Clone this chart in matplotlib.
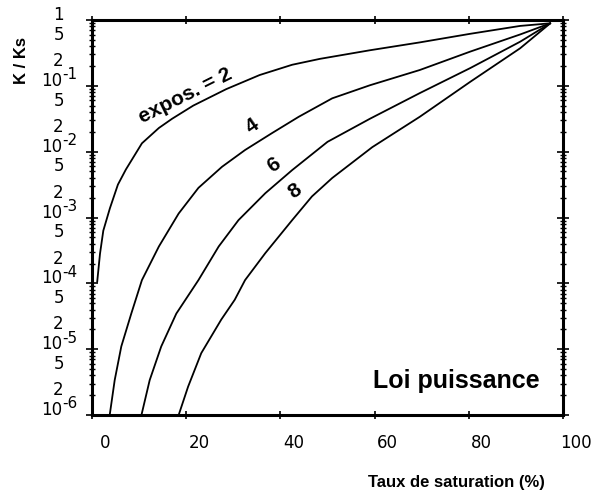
import numpy as np
import matplotlib
matplotlib.use("Agg")
import matplotlib.pyplot as plt
from matplotlib.transforms import blended_transform_factory, ScaledTranslation
from matplotlib.ticker import LogLocator, NullFormatter, FixedLocator

# ---- data ----
x_exp2 = [1.1, 1.7, 2.4, 3.8, 5.5, 7.2, 10.6, 14.2, 17.0, 21.5, 28.5, 35.6, 42.5, 48.4,
          59.0, 69.6, 80.3, 90.9, 97.3]
k_exp2 = [1.05e-4, 2.82e-4, 6.31e-4, 1.38e-3, 3.16e-3, 5.37e-3, 1.34e-2, 2.29e-2, 3.16e-2,
          5.01e-2, 8.91e-2, 0.146, 0.209, 0.257, 0.347, 0.457, 0.617, 0.813, 0.891]

x_exp4 = [3.76, 4.82, 6.22, 8.34, 10.6, 14.2, 18.4, 22.6, 27.6, 32.5, 38.2, 43.9, 51.0,
          59.0, 69.6, 80.3, 90.9, 97.3]
k_exp4 = [1.0e-6, 3.39e-6, 1.10e-5, 3.47e-5, 1.12e-4, 3.63e-4, 1.15e-3, 2.82e-3, 5.89e-3,
          1.06e-2, 1.91e-2, 3.39e-2, 6.46e-2, 0.102, 0.174, 0.331, 0.603, 0.891]

x_exp6 = [10.5, 12.25, 14.7, 17.9, 22.6, 26.9, 31.1, 36.8, 42.5, 50.0, 59.0, 69.6, 80.3, 90.9, 97.3]
k_exp6 = [1.0e-6, 3.39e-6, 1.10e-5, 3.47e-5, 1.12e-4, 3.63e-4, 9.12e-4, 2.34e-3, 5.25e-3,
          1.41e-2, 3.16e-2, 7.76e-2, 0.186, 0.468, 0.891]

x_exp8 = [18.4, 20.4, 23.2, 27.45, 30.3, 32.5, 36.8, 42.5, 46.7, 51.0, 59.5, 69.6, 80.3, 90.9, 97.3]
k_exp8 = [1.0e-6, 2.69e-6, 8.71e-6, 2.82e-5, 5.62e-5, 1.12e-4, 2.88e-4, 9.12e-4, 2.09e-3,
          3.98e-3, 1.17e-2, 3.39e-2, 0.115, 0.372, 0.891]

curve_labels = ["expos. = 2", "4", "6", "8"]
label_x = [19.8, 34.0, 38.6, 43.2]
label_k = [0.07, 0.024, 6.3e-3, 2.5e-3]
label_rot = [26.5, 35, 35, 35]

xtick_vals = [0, 20, 40, 60, 80, 100]
xtick_labels = ["0", "20", "40", "60", "80", "100"]

ytick_vals = [1, 5e-1, 2e-1, 1e-1, 5e-2, 2e-2, 1e-2, 5e-3, 2e-3, 1e-3, 5e-4, 2e-4, 1e-4,
              5e-5, 2e-5, 1e-5, 5e-6, 2e-6, 1e-6]
ytick_labels = ["1", "5", "2", "10^-1", "5", "2", "10^-2", "5", "2", "10^-3",
                "5", "2", "10^-4", "5", "2", "10^-5", "5", "2", "10^-6"]

# ---- figure ----
fig = plt.figure(figsize=(6.09, 4.97), dpi=100)
ax = fig.add_axes([92 / 609, 1 - 415 / 497, 471 / 609, 395 / 497])

for xs, ks in [(x_exp2, k_exp2), (x_exp4, k_exp4), (x_exp6, k_exp6), (x_exp8, k_exp8)]:
    ax.plot(xs, ks, color='black', lw=1.3, solid_joinstyle='round', solid_capstyle='round')

ax.set_yscale('log')
ax.set_xlim(0, 100)
ax.set_ylim(1e-6, 1)

for s in ax.spines.values():
    s.set_linewidth(2.2)

ax.yaxis.set_major_locator(LogLocator(base=10, numticks=10))
ax.yaxis.set_minor_locator(LogLocator(base=10, subs=np.arange(2, 10), numticks=20))
ax.yaxis.set_major_formatter(NullFormatter())
ax.yaxis.set_minor_formatter(NullFormatter())
ax.xaxis.set_major_locator(FixedLocator(xtick_vals))
ax.xaxis.set_major_formatter(NullFormatter())
ax.tick_params(axis='y', which='major', direction='inout', length=8, width=1.2, left=True, right=True)
ax.tick_params(axis='y', which='minor', direction='inout', length=5, width=1.0, left=True, right=True)
ax.tick_params(axis='x', which='major', direction='inout', length=6, width=1.2, bottom=True, top=True)

# y tick labels (as in the original: digits centred, slightly above their ticks)
base_tr = blended_transform_factory(ax.transAxes, ax.transData)
tr_main = base_tr + ScaledTranslation(0, 0.05, fig.dpi_scale_trans)
tr_exp = base_tr + ScaledTranslation(0, 0.11, fig.dpi_scale_trans)
for v, lab in zip(ytick_vals, ytick_labels):
    if "^" in lab:
        mant, ex = lab.split("^")
        ax.text(-0.0625, v, mant, transform=tr_main, ha='right', va='center', fontsize=12,
                family='DejaVu Sans', clip_on=False)
        ax.text(-0.0625, v, ex, transform=tr_exp, ha='left', va='center', fontsize=11,
                family='DejaVu Sans', clip_on=False)
    else:
        ax.text(-0.071, v, lab, transform=tr_main, ha='center', va='center', fontsize=12,
                family='DejaVu Sans', clip_on=False)

# x tick labels (shifted right of their ticks, as in the original)
xtr = blended_transform_factory(ax.transData, ax.transAxes) + ScaledTranslation(0.13, 0, fig.dpi_scale_trans)
for v, lab in zip(xtick_vals, xtick_labels):
    ax.text(v, -0.071, lab, transform=xtr, ha='center', va='center', fontsize=12,
            family='DejaVu Sans', clip_on=False)

# curve labels
for lab, lx, lk, rot in zip(curve_labels, label_x, label_k, label_rot):
    ax.text(lx, lk, lab, rotation=rot, ha='center', va='center', fontsize=15,
            fontweight='bold', family='Liberation Sans', rotation_mode='anchor')

ax.text(0.774, 0.068, "Loi puissance", transform=ax.transAxes, ha='center', va='baseline',
        fontsize=18, fontweight='bold', family='Liberation Sans')

fig.text(456 / 609, 1 - 482 / 497, "Taux de saturation (%)", ha='center', va='center',
         fontsize=12, fontweight='bold', family='Liberation Sans')
fig.text(22 / 609, 1 - 61 / 497, "K / Ks", rotation=90, ha='center', va='center',
         fontsize=12, fontweight='bold', family='Liberation Sans')

fig.savefig("out.png", dpi=100)
